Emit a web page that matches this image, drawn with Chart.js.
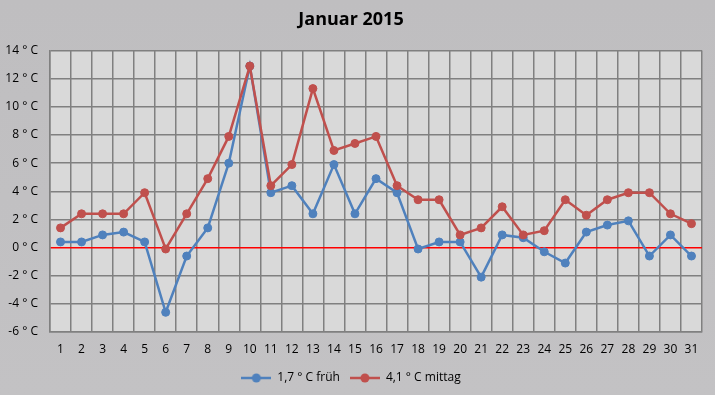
<!DOCTYPE html>
<html>
<head>
<meta charset="utf-8">
<script src="https://cdn.jsdelivr.net/npm/chart.js@4/dist/chart.umd.min.js"></script>
<style>
  html, body { margin: 0; padding: 0; background: #c1c0c2; }
  #wrap { width: 715px; height: 395px; }
</style>
</head>
<body>
<div id="wrap"><canvas id="chart" width="715" height="395"></canvas></div>
<script>
// chart data
const days = ['1','2','3','4','5','6','7','8','9','10','11','12','13','14','15','16',
              '17','18','19','20','21','22','23','24','25','26','27','28','29','30','31'];
const frueh = [0.4, 0.4, 0.9, 1.1, 0.4, -4.6, -0.6, 1.4, 6.0, 12.9, 3.9, 4.4, 2.4, 5.9, 2.4, 4.9,
               3.9, -0.1, 0.4, 0.4, -2.1, 0.9, 0.7, -0.3, -1.1, 1.1, 1.6, 1.9, -0.6, 0.9, -0.6];
const mittag = [1.4, 2.4, 2.4, 2.4, 3.9, -0.1, 2.4, 4.9, 7.9, 12.9, 4.4, 5.9, 11.3, 6.9, 7.4, 7.9,
                4.4, 3.4, 3.4, 0.9, 1.4, 2.9, 0.9, 1.2, 3.4, 2.3, 3.4, 3.9, 3.9, 2.4, 1.7];
const seriesNames = ['1,7 ° C früh', '4,1 ° C mittag'];
const seriesColors = ['#4f81bd', '#c0504d'];

// legend marker: short line with a dot, like the office charts
function legendMarker(color) {
    const c = document.createElement('canvas');
    c.width = 30; c.height = 12;
    const g = c.getContext('2d');
    g.strokeStyle = color;
    g.lineWidth = 2.5;
    g.beginPath(); g.moveTo(0, 6); g.lineTo(30, 6); g.stroke();
    g.fillStyle = color;
    g.beginPath(); g.arc(15, 6, 4.5, 0, Math.PI * 2); g.fill();
    return c;
}

// gray background and plot area fill
const backdrop = {
    id: 'backdrop',
    beforeDraw(chart) {
        const { ctx, chartArea: a, width, height } = chart;
        ctx.save();
        const grad = ctx.createLinearGradient(0, 0, 0, height);
        grad.addColorStop(0, '#bfbec0');
        grad.addColorStop(1, '#c3c2c4');
        ctx.fillStyle = grad;
        ctx.fillRect(0, 0, width, height);
        ctx.fillStyle = '#d9d9d9';
        ctx.fillRect(a.left, a.top, a.right - a.left, a.bottom - a.top);
        ctx.restore();
    }
};

const font = "'Open Sans', 'Liberation Sans', sans-serif";

new Chart(document.getElementById('chart'), {
    type: 'line',
    data: {
        labels: days,
        datasets: [
            { label: seriesNames[0], data: frueh, borderColor: seriesColors[0], backgroundColor: seriesColors[0],
              borderWidth: 2.5, pointRadius: 4, pointBorderWidth: 1, pointHoverRadius: 4, tension: 0, order: 1 },
            { label: seriesNames[1], data: mittag, borderColor: seriesColors[1], backgroundColor: seriesColors[1],
              borderWidth: 2.5, pointRadius: 4, pointBorderWidth: 1, pointHoverRadius: 4, tension: 0, order: 0 }
        ]
    },
    options: {
        responsive: false,
        animation: false,
        layout: { padding: { left: 0, right: 13, top: 0, bottom: 1 } },
        plugins: {
            title: {
                display: true,
                text: 'Januar 2015',
                color: '#000',
                font: { family: font, size: 18, weight: 'bold' },
                padding: { top: 9, bottom: 20 }
            },
            legend: {
                position: 'bottom',
                labels: {
                    color: '#000',
                    font: { family: font, size: 12 },
                    usePointStyle: true,
                    pointStyleWidth: 30,
                    padding: 10,
                    generateLabels(chart) {
                        return chart.data.datasets.map((ds, i) => ({
                            text: ds.label,
                            datasetIndex: i,
                            fillStyle: ds.borderColor,
                            strokeStyle: ds.borderColor,
                            pointStyle: legendMarker(ds.borderColor),
                            hidden: false,
                            lineWidth: 0,
                            fontColor: '#000'
                        }));
                    }
                }
            },
            tooltip: { enabled: false }
        },
        scales: {
            x: {
                offset: true,
                grid: { offset: true, color: '#808080', lineWidth: 1.5, drawTicks: false },
                border: { color: '#808080', width: 1.5 },
                ticks: { color: '#000', font: { family: font, size: 12 }, padding: 10, autoSkip: false, maxRotation: 0 },
                afterFit(s) { s.height = 30; }
            },
            y: {
                min: -6,
                max: 14,
                grid: {
                    color: c => (c.tick && c.tick.value === 0) ? '#ff0000' : '#808080',
                    lineWidth: c => (c.tick && c.tick.value === 0) ? 1.5 : 1.5,
                    drawTicks: false
                },
                border: { color: '#808080', width: 1.5 },
                ticks: {
                    stepSize: 2,
                    color: '#000',
                    font: { family: font, size: 12 },
                    padding: 12,
                    callback: v => v + ' ° C'
                },
                afterFit(s) { s.width = 50; }
            }
        }
    },
    plugins: [backdrop]
});
</script>
</body>
</html>
